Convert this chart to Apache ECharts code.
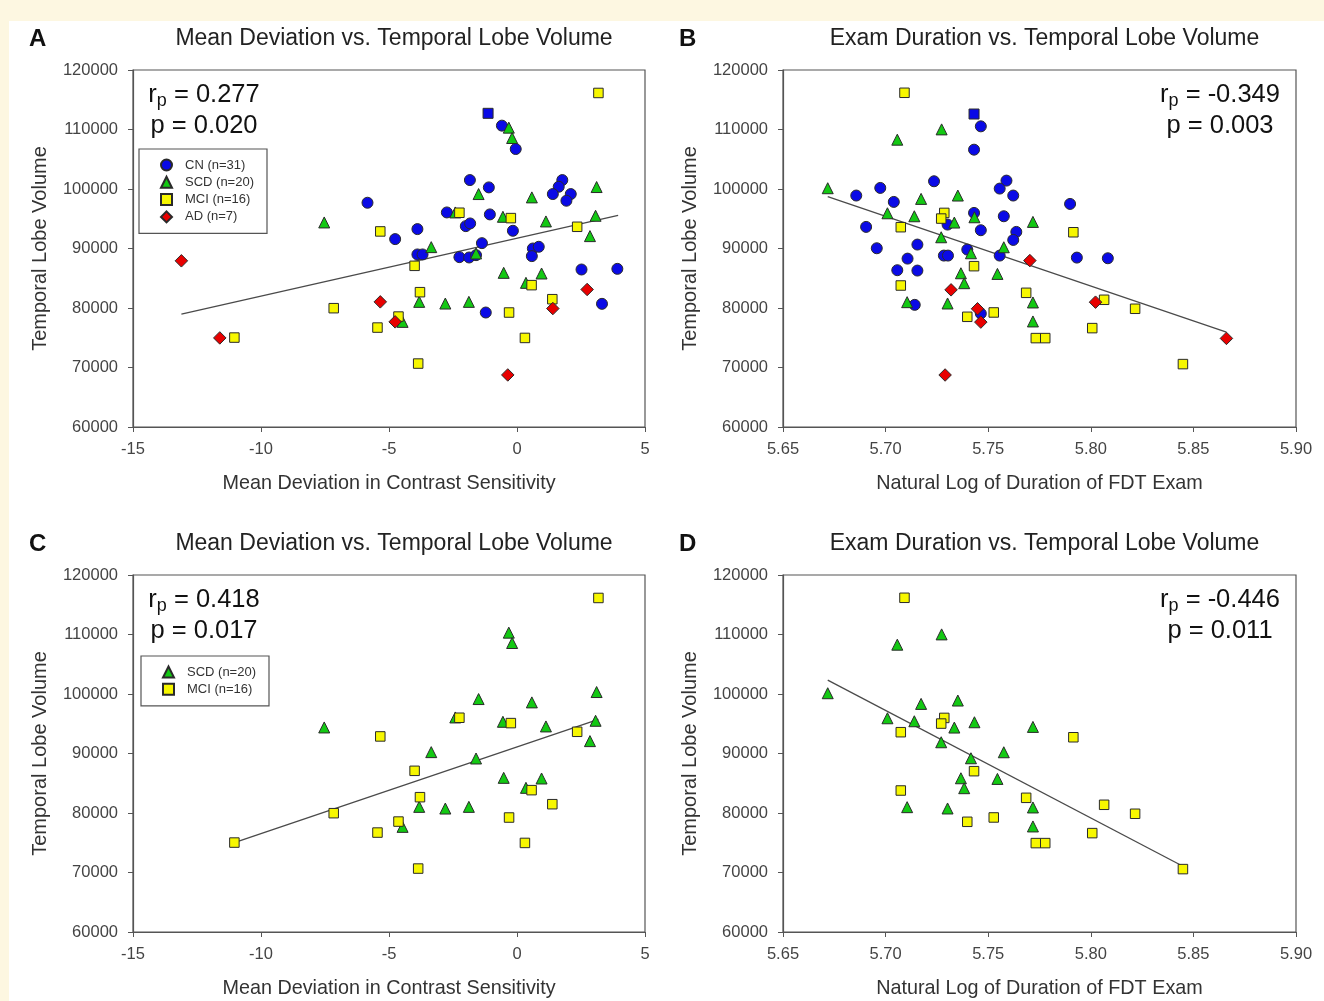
<!DOCTYPE html>
<html>
<head>
<meta charset="utf-8" />
<title>Temporal Lobe Volume</title>
<style type="text/css">
body{ margin:0; background:#fdf7e1; }
#paper{ position:absolute; left:9px; top:21px; right:0; bottom:0; background:#fff; }
#chart{ position:absolute; left:0; top:0; width:1324px; height:1001px; }
</style>
<script src="https://cdn.jsdelivr.net/npm/echarts@6/dist/echarts.min.js"></script>
</head>
<body>
<div id="paper"></div>
<div id="chart"></div>
<script type="text/javascript">
// ---- data ----
// panel A / C : mean deviation (x) vs temporal lobe volume (y)
var cnMeanDev = [[-1.13,112720],[-0.59,110650],[-0.05,106720],[-1.84,101500],[-1.10,100270],[1.77,101500],[1.63,100380],[1.40,99150],[2.10,99150],[1.93,98030],[-5.84,97690],[-2.74,96060],[-1.06,95730],[-3.89,93260],[-0.16,92980],[-4.76,91580],[-2.00,93760],[-1.83,94210],[-1.37,90900],[0.62,90000],[0.85,90290],[-3.89,89000],[-3.69,89000],[-2.25,88550],[-1.87,88490],[0.58,88720],[2.52,86470],[3.92,86580],[-1.22,79240],[3.32,80700],[-1.60,88880]];
var scdMeanDev = [[-0.32,110310],[-0.19,108570],[3.11,100330],[-1.50,99150],[0.58,98590],[3.07,95500],[-0.55,95330],[-2.41,96060],[1.13,94550],[-7.53,94380],[2.85,92080],[-3.35,90230],[-1.60,89160],[-0.52,85910],[0.96,85800],[0.35,84230],[-3.82,81030],[-2.80,80750],[-1.88,81030],[-4.47,77670]];
var mciMeanDev = [[3.18,116140],[-2.25,96010],[-0.24,95110],[2.35,93650],[-5.34,92870],[-4.00,87090],[-3.79,82660],[0.57,83840],[1.38,81480],[-7.16,79970],[-4.63,78560],[-0.31,79240],[-5.45,76710],[-11.04,75030],[0.31,74970],[-3.86,70660]];
var adMeanDev = [[-13.11,87930],[-5.34,81030],[2.74,83110],[-4.76,77670],[1.40,79910],[-11.61,74970],[-0.36,68750]];

// panel B / D : ln(exam duration) (x) vs temporal lobe volume (y)
var cnDuration = [[5.7431,112600],[5.7464,110530],[5.7431,106610],[5.7589,101410],[5.7236,101300],[5.7556,100070],[5.6974,100180],[5.6857,98900],[5.7622,98900],[5.7040,97830],[5.7899,97490],[5.7431,95980],[5.7576,95420],[5.7302,94020],[5.6905,93630],[5.7464,93070],[5.7637,92790],[5.7622,91440],[5.7155,90660],[5.6957,90040],[5.7398,89820],[5.7284,88810],[5.7304,88810],[5.7107,88300],[5.7556,88810],[5.7932,88470],[5.8083,88360],[5.7057,86350],[5.7155,86290],[5.7142,80530],[5.7464,79070]];
var scdDuration = [[5.6718,100130],[5.7273,110020],[5.7057,108290],[5.7173,98340],[5.7352,98900],[5.7009,95920],[5.7140,95420],[5.7433,95250],[5.7335,94360],[5.7718,94470],[5.7271,91890],[5.7576,90210],[5.7416,89200],[5.7367,85840],[5.7545,85730],[5.7383,84170],[5.7105,80980],[5.7302,80760],[5.7718,80930],[5.7718,77740]];
var mciDuration = [[5.7092,116170],[5.7286,95980],[5.7271,95030],[5.7074,93580],[5.7915,92730],[5.7431,87030],[5.7074,83780],[5.7685,82550],[5.8065,81380],[5.8216,79870],[5.7398,78520],[5.7527,79250],[5.8007,76620],[5.7732,74940],[5.7778,74940],[5.8449,70570]];
var adDuration = [[5.7703,87970],[5.7319,83050],[5.7448,79870],[5.7464,77630],[5.8023,80980],[5.8661,74890],[5.7290,68740]];

// fitted lines (end points)
var fitA = [[-13.11,78960],[3.95,95560]];
var fitB = [[5.6718,98720],[5.8661,75950]];
var fitC = [[-11.04,75040],[3.18,95740]];
var fitD = [[5.6718,102340],[5.8449,71050]];

var panelLetters = ['A','B','C','D'];
var panelTitles = ['Mean Deviation vs. Temporal Lobe Volume','Exam Duration vs. Temporal Lobe Volume','Mean Deviation vs. Temporal Lobe Volume','Exam Duration vs. Temporal Lobe Volume'];
var xNames = ['Mean Deviation in Contrast Sensitivity','Natural Log of Duration of FDT Exam','Mean Deviation in Contrast Sensitivity','Natural Log of Duration of FDT Exam'];
var rValues = ['0.277','-0.349','0.418','-0.446'];
var pValues = ['0.020','0.003','0.017','0.011'];
var groupNames = ['CN (n=31)','SCD (n=20)','MCI (n=16)','AD (n=7)'];

// the one CN subject drawn as a square in the figure
var cnSquareIndex = 0;

var FONT = "'Liberation Sans', Arial, sans-serif";
var AXIS = '#555';

var grids = [
  {left:133, top:70, width:512, height:357},
  {left:783, top:70, width:513, height:357},
  {left:133, top:575, width:512, height:357},
  {left:783, top:575, width:513, height:357}
];

var xAxes = [], yAxes = [];
for (var i = 0; i < 4; i++) {
  var isMD = (i % 2 == 0);
  xAxes.push({
    gridIndex:i, type:'value',
    min: isMD ? -15 : 5.65, max: isMD ? 5 : 5.90, interval: isMD ? 5 : 0.05,
    name: xNames[i], nameLocation:'middle', nameGap:47,
    nameTextStyle:{fontFamily:FONT, fontSize:19.8, color:'#333'},
    axisLine:{show:true, onZero:false, lineStyle:{color:AXIS, width:1.2}},
    axisTick:{show:true, length:5, lineStyle:{color:AXIS}},
    splitLine:{show:false},
    axisLabel:{fontFamily:FONT, fontSize:16.5, color:'#444', margin:14,
      formatter: isMD ? function(v){ return String(v); } : function(v){ return v.toFixed(2); }}
  });
  yAxes.push({
    gridIndex:i, type:'value', min:60000, max:120000, interval:10000,
    name:'Temporal Lobe Volume', nameLocation:'middle', nameGap:83,
    nameTextStyle:{fontFamily:FONT, fontSize:20, color:'#333'},
    axisLine:{show:true, onZero:false, lineStyle:{color:AXIS, width:1.2}},
    axisTick:{show:true, length:5, lineStyle:{color:AXIS}},
    splitLine:{show:false},
    axisLabel:{fontFamily:FONT, fontSize:16.5, color:'#444', margin:15,
      formatter:function(v){ return String(v); }}
  });
  grids[i].show = true;
  grids[i].borderColor = AXIS;
  grids[i].borderWidth = 1.2;
  grids[i].outerBoundsMode = 'none';
}

var styles = {
  'CN (n=31)':  {symbol:'circle',   size:11, color:'#0a0ae6'},
  'SCD (n=20)': {symbol:'triangle', size:11, color:'#13c913'},
  'MCI (n=16)': {symbol:'rect',     size:9.5, color:'#f7f700'},
  'AD (n=7)':   {symbol:'diamond',  size:12.5, color:'#e80000'}
};

function scatter(name, data, idx) {
  var st = styles[name];
  var pts = data;
  if (name == 'CN (n=31)') {
    pts = data.map(function(d, k){
      return k == cnSquareIndex ? {value:d, symbol:'rect', symbolSize:10} : d;
    });
  }
  return {
    name:name, type:'scatter', xAxisIndex:idx, yAxisIndex:idx,
    symbol:st.symbol, symbolSize:st.size, data:pts, z:3,
    itemStyle:{color:st.color, borderColor:'#2a2a2a', borderWidth:1, opacity:1},
    emphasis:{disabled:true}
  };
}
function fit(data, idx) {
  return {
    type:'line', xAxisIndex:idx, yAxisIndex:idx, data:data, showSymbol:false,
    symbol:'none', lineStyle:{color:'#4a4a4a', width:1.3}, z:2, silent:true
  };
}

var series = [
  fit(fitA,0), scatter('CN (n=31)',cnMeanDev,0), scatter('SCD (n=20)',scdMeanDev,0), scatter('MCI (n=16)',mciMeanDev,0), scatter('AD (n=7)',adMeanDev,0),
  fit(fitB,1), scatter('CN (n=31)',cnDuration,1), scatter('SCD (n=20)',scdDuration,1), scatter('MCI (n=16)',mciDuration,1), scatter('AD (n=7)',adDuration,1),
  fit(fitC,2), scatter('SCD (n=20)',scdMeanDev,2), scatter('MCI (n=16)',mciMeanDev,2),
  fit(fitD,3), scatter('SCD (n=20)',scdDuration,3), scatter('MCI (n=16)',mciDuration,3)
];

var titles = [], graphics = [];
for (var j = 0; j < 4; j++) {
  var g = grids[j];
  titles.push({
    text: panelTitles[j], left: g.left + g.width/2, top: g.top - 48, textAlign:'center',
    textStyle:{fontFamily:FONT, fontSize:23, fontWeight:'normal', color:'#222'}
  });
  titles.push({
    text: panelLetters[j], left: g.left - 109, top: g.top - 48,
    textStyle:{fontFamily:FONT, fontSize:24, fontWeight:'bold', color:'#111'}
  });
  var cx = (j % 2 == 0) ? g.left + 71 : g.left + 437;
  graphics.push({
    type:'text', x:cx, y:g.top + 9, silent:true,
    style:{
      text:'{m|r}{s|p}{m| = ' + rValues[j] + '}\n{m|p = ' + pValues[j] + '}',
      align:'center', verticalAlign:'top', fill:'#111',
      rich:{
        m:{fontFamily:FONT, fontSize:25.5, lineHeight:31, fill:'#111'},
        s:{fontFamily:FONT, fontSize:18, lineHeight:10, verticalAlign:'bottom', fill:'#111'}
      }
    }
  });
}

var legendBase = {
  orient:'vertical', itemWidth:11, itemHeight:11, itemGap:4.3,
  padding:[9.5,13,10,21], borderColor:AXIS, borderWidth:1.2, borderRadius:0,
  selectedMode:false, backgroundColor:'#fff',
  textStyle:{fontFamily:FONT, fontSize:13, color:'#333', padding:[0,0,0,8]}
};

var option = {
  animation:false,
  title: titles,
  grid: grids,
  xAxis: xAxes,
  yAxis: yAxes,
  legend: [
    Object.assign({}, legendBase, {left:139, top:149, data:groupNames}),
    Object.assign({}, legendBase, {left:141, top:656, data:[groupNames[1], groupNames[2]]})
  ],
  graphic: graphics,
  series: series
};

var myChart = echarts.init(document.getElementById('chart'));
myChart.setOption(option);
</script>
</body>
</html>
